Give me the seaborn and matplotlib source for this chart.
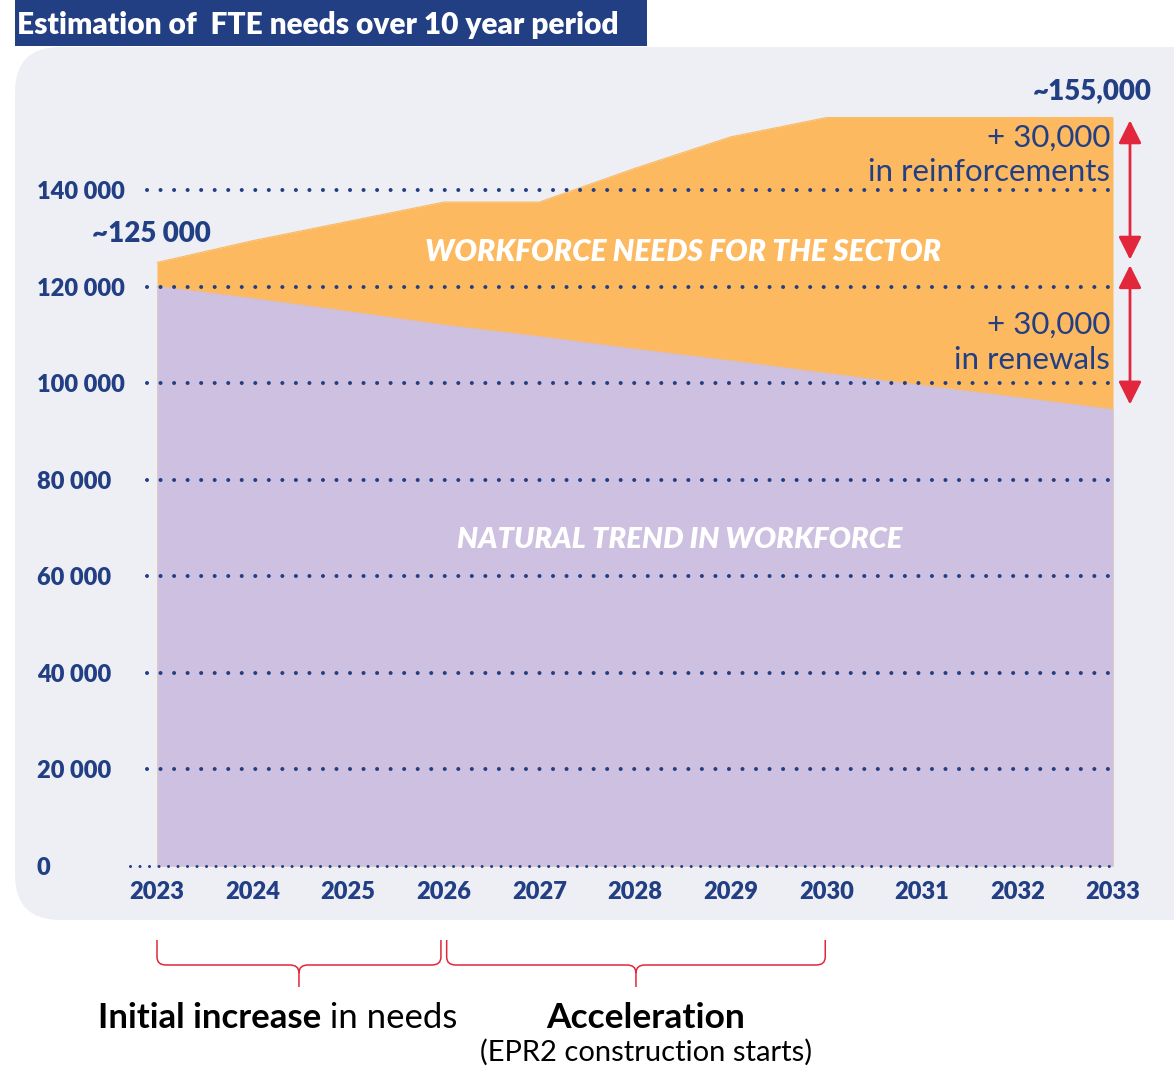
import matplotlib
matplotlib.use("Agg")
import matplotlib.pyplot as plt
import matplotlib.transforms as mtransforms
from matplotlib.patches import FancyBboxPatch, Rectangle, PathPatch
from matplotlib.path import Path
import numpy as np
import pandas as pd
import seaborn as sns

# ---- data -------------------------------------------------------------
years = [2023, 2024, 2025, 2026, 2027, 2028, 2029, 2030, 2031, 2032, 2033]
natural_trend = [120000, 117500, 114800, 112000, 109600, 107000, 104600,
                 102000, 99500, 97000, 94500]
sector_needs = [125000, 129500, 133500, 137500, 137500, 144500, 151000,
                155000, 155000, 155000, 155000]
y_ticks = [0, 20000, 40000, 60000, 80000, 100000, 120000, 140000]
y_tick_labels = ["0", "20 000", "40 000", "60 000", "80 000",
                 "100 000", "120 000", "140 000"]
# (+30,000 reinforcements, +30,000 renewals)
gap_spans = [(155000, 125000), (125000, 95000)]
gap_labels = ["+ 30,000\nin reinforcements", "+ 30,000\nin renewals"]
phase_spans = [(2023, 2026), (2026, 2030)]

df = pd.DataFrame({"year": years, "natural": natural_trend,
                   "needs": sector_needs})

# ---- style ------------------------------------------------------------
NAVY = "#223f84"
ORANGE = "#fcb960"
PURPLE = "#cdc0e0"
PANEL = "#eeeff5"
RED = "#e2263c"

sns.set_theme(style="white")
plt.rcParams["font.family"] = ["Lato", "DejaVu Sans"]

W, H = 1174, 1066
fig = plt.figure(figsize=(W / 100, H / 100), dpi=100)
fig.patch.set_facecolor("white")

# pixel canvas behind the chart: panel, banner, braces, captions
bg = fig.add_axes([0, 0, 1, 1], zorder=0)
bg.set_xlim(0, W)
bg.set_ylim(H, 0)
bg.axis("off")

bg.add_patch(FancyBboxPatch((15, 47), W + 80, 873,
                            boxstyle="round,pad=0,rounding_size=45",
                            fc=PANEL, ec="none"))
bg.add_patch(Rectangle((15, 0), 632, 46, fc=NAVY, ec="none"))
bg.text(17, 25, "Estimation of  FTE needs over 10 year period", color="white",
        fontsize=21.5, fontweight="heavy", va="center", ha="left")

# ---- main chart -------------------------------------------------------
px_left, px_right = 130, 1113
px_zero, px_top = 866, 60
px_per_unit = (866 - 190) / 140000
px_per_year = (1113 - 157) / 10
x_left = years[0] - (157 - px_left) / px_per_year
y_max = (px_zero - px_top) / px_per_unit

ax = fig.add_axes([px_left / W, (H - px_zero) / H,
                   (px_right - px_left) / W, (px_zero - px_top) / H],
                  zorder=2)
ax.set_facecolor("none")
ax.set_xlim(x_left, years[-1])
ax.set_ylim(0, y_max)

ax.fill_between(df["year"], 0, df["needs"], color=ORANGE, lw=0, zorder=1)
ax.fill_between(df["year"], 0, df["natural"], color=PURPLE, lw=0, zorder=1.5)
sns.lineplot(data=df, x="year", y="needs", ax=ax, color=ORANGE, lw=0.8,
             zorder=1.2)
sns.lineplot(data=df, x="year", y="natural", ax=ax, color=PURPLE, lw=0.8,
             zorder=1.6)

# dotted guide lines
grid_start = years[0] - 10 / px_per_year
for v in y_ticks:
    if v == 0:
        ax.plot([x_left, years[-1]], [v, v], color=NAVY, lw=2.2,
                ls=(0, (0.01, 3.1)), dash_capstyle="round", zorder=3,
                clip_on=False)
    else:
        ax.plot([grid_start, years[-1]], [v, v], color=NAVY, lw=2.9,
                ls=(0, (0.01, 3.35)), dash_capstyle="round", zorder=3,
                clip_on=False)

for s in ax.spines.values():
    s.set_visible(False)
ax.set_xlabel("")
ax.set_ylabel("")
ax.set_xticks(years)
ax.set_xticklabels([str(y) for y in years])
ax.set_yticks(y_ticks)
ax.set_yticklabels(y_tick_labels)
ax.tick_params(axis="x", length=0, pad=11, labelsize=17, labelcolor=NAVY)
ax.tick_params(axis="y", length=0, pad=67, labelsize=17, labelcolor=NAVY)
for lab in ax.get_yticklabels():
    lab.set_ha("left")
    lab.set_fontweight("heavy")
for lab in ax.get_xticklabels():
    lab.set_fontweight("heavy")

# labels inside the areas
ax.text(2028.5, 127200, "WORKFORCE NEEDS FOR THE SECTOR", color="white",
        fontsize=21.5, fontweight="heavy", fontstyle="italic", ha="center",
        va="center", zorder=4)
ax.text(2028.47, 67500, "NATURAL TREND IN WORKFORCE", color="white",
        fontsize=21, fontweight="heavy", fontstyle="italic", ha="center",
        va="center", zorder=4)

ax.annotate("~125 000", xy=(years[0], sector_needs[0]),
            xytext=(-6, 28), textcoords="offset pixels", ha="center",
            va="center", color=NAVY, fontsize=20, fontweight="heavy",
            annotation_clip=False)
ax.annotate("~155,000", xy=(years[-1], sector_needs[-1]),
            xytext=(39, 26), textcoords="offset pixels", ha="right",
            va="center", color=NAVY, fontsize=20, fontweight="heavy",
            annotation_clip=False)

arrow_x = years[-1] + 17 / px_per_year
text_x = years[-1] - 3 / px_per_year
for (top, bottom), label, ty in zip(gap_spans, gap_labels, [147300, 108400]):
    ax.annotate("", xy=(arrow_x, top), xytext=(arrow_x, bottom),
                arrowprops=dict(arrowstyle="<|-|>,head_length=0.7,head_width=0.35",
                                color=RED, lw=2, shrinkA=2, shrinkB=2,
                                mutation_scale=20),
                annotation_clip=False)
    ax.text(text_x, ty, label, ha="right", va="center", color=NAVY,
            fontsize=22.5, linespacing=1.3, zorder=4)

# ---- phase braces under the axis -------------------------------------
blend = mtransforms.blended_transform_factory(ax.transData, bg.transData)
rx = 9 / px_per_year
y0, y1, y2, ry = 940, 965, 987, 8
for a, b in phase_spans:
    a_ = a + 0.0 if a == years[0] else a + 0.03
    b_ = b - 0.03 if b != 2030 else b - 0.01
    m = (a_ + b_) / 2
    verts = [(a_, y0), (a_, y1 - ry), (a_, y1), (a_ + rx, y1),
             (m - rx, y1), (m, y1), (m, y1 + ry), (m, y2),
             (b_, y0), (b_, y1 - ry), (b_, y1), (b_ - rx, y1),
             (m + rx, y1), (m, y1), (m, y1 + ry)]
    codes = [Path.MOVETO, Path.LINETO, Path.CURVE3, Path.CURVE3,
             Path.LINETO, Path.CURVE3, Path.CURVE3, Path.LINETO,
             Path.MOVETO, Path.LINETO, Path.CURVE3, Path.CURVE3,
             Path.LINETO, Path.CURVE3, Path.CURVE3]
    bg.add_patch(PathPatch(Path(verts, codes), transform=blend, fc="none",
                           ec=RED, lw=1.1, clip_on=False))

t1 = bg.text(321, 1018, "Initial increase", fontsize=25, fontweight="bold",
             color="black", ha="right", va="center")
bg.annotate(" in needs", xy=(1, 0), xycoords=t1, ha="left", va="bottom",
            fontsize=25, color="black")
bg.text(646, 1018, "Acceleration", fontsize=25.5, fontweight="bold",
        color="black", ha="center", va="center")
bg.text(646, 1052, "(EPR2 construction starts)", fontsize=21,
        color="black", ha="center", va="center")

fig.savefig("out.png", dpi=100)
